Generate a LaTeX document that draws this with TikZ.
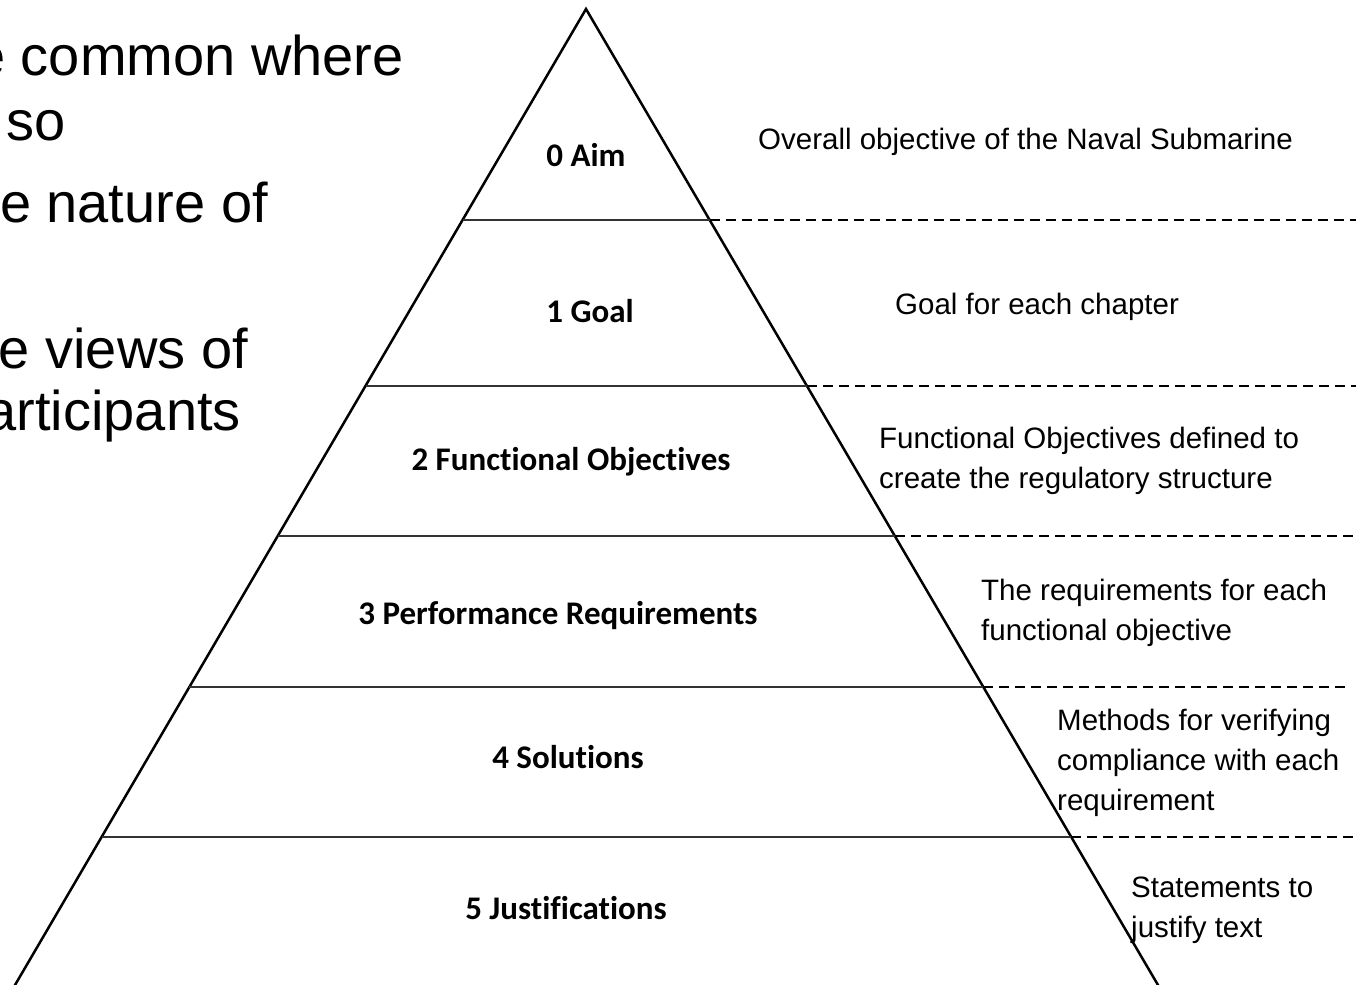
\documentclass[tikz,border=0pt]{standalone}
\usepackage{fontspec}
\setmainfont{Liberation Sans}
\newfontfamily\tierfont[Ligatures=NoCommon]{Carlito}
\begin{document}
\begin{tikzpicture}[x=1pt,y=-1pt,
  edge/.style={draw=black,line width=2.5pt},
  tierline/.style={draw=black!80,line width=2.3pt},
  guide/.style={draw=black,line width=2.8pt,dash pattern=on 10pt off 6pt},
  tierlabel/.style={font=\tierfont\fontsize{33}{38}\selectfont\bfseries,text=black,inner sep=0pt},
  note/.style={font=\fontsize{29.5}{40}\selectfont,text=black,align=left,anchor=north west,inner sep=0pt},
  bullet/.style={font=\fontsize{56}{66}\selectfont,text=black,anchor=base east,inner sep=0pt}]
\useasboundingbox (0,0) rectangle (1363,985);
\clip (0,0) rectangle (1363,985);

% slide text running in from the left
\node[bullet] (b1) at (404,75)  {e common where};
\node[bullet] (b2) at (66,140)  {so};
\node[bullet] (b3) at (268,222) {e nature of};
\node[bullet] (b4) at (248,368) {e views of};
\node[bullet] (b5) at (241,430) {articipants};

% pyramid outline
\coordinate (apex) at (586,9);
\coordinate (bl) at (12.1,990);
\coordinate (br) at (1160.9,990);
\draw[edge,line join=miter] (bl) -- (apex) -- (br);

% tier boundaries: left edge, right edge, end of dashed guide
\coordinate (l1) at (462.6,220); \coordinate (r1) at (709.6,220);  \coordinate (e1) at (1356,220);
\coordinate (l2) at (365.5,386); \coordinate (r2) at (806.9,386);  \coordinate (e2) at (1356,386);
\coordinate (l3) at (277.7,536); \coordinate (r3) at (894.8,536);  \coordinate (e3) at (1356,536);
\coordinate (l4) at (189.4,687); \coordinate (r4) at (983.3,687);  \coordinate (e4) at (1350,687);
\coordinate (l5) at (101.6,837); \coordinate (r5) at (1071.2,837); \coordinate (e5) at (1356,837);
\foreach \k in {1,...,5}{
  \draw[tierline] (l\k) -- (r\k);
  \draw[guide] (r\k) -- (e\k);
}

% tier names
\node[tierlabel] (t0) at (586,155) {0 Aim};
\node[tierlabel] (t1) at (590,311) {1 Goal};
\node[tierlabel] (t2) at (571,462) {2 Functional Objectives};
\node[tierlabel] (t3) at (558,616) {3 Performance Requirements};
\node[tierlabel] (t4) at (568,757) {4 Solutions};
\node[tierlabel] (t5) at (566,908) {5 Justifications};

% descriptions
\node[note] (d0) at (758,128)  {Overall objective of the Naval Submarine};
\node[note] (d1) at (895,293)  {Goal for each chapter};
\node[note] (d2) at (879,427)  {Functional Objectives defined to\\create the regulatory structure};
\node[note] (d3) at (981,579)  {The requirements for each\\functional objective};
\node[note] (d4) at (1057,709) {Methods for verifying\\compliance with each\\requirement};
\node[note] (d5) at (1131,877) {Statements to\\justify text};
\end{tikzpicture}
\end{document}
